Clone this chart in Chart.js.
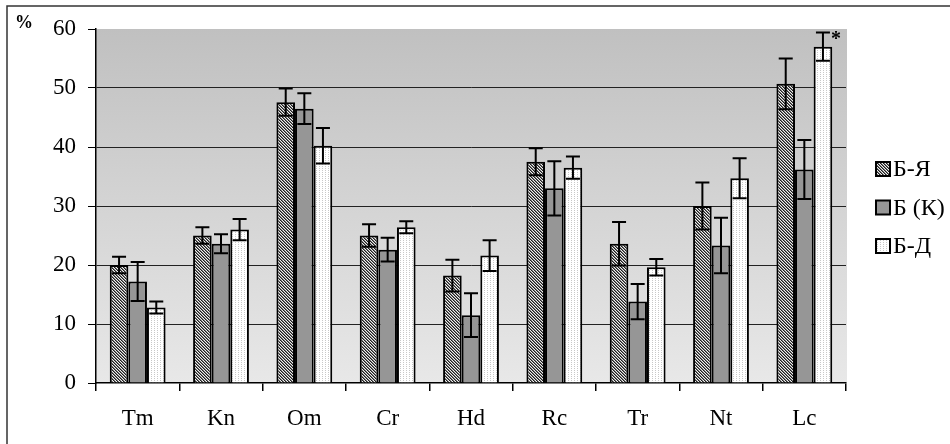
<!DOCTYPE html>
<html>
<head>
<meta charset="utf-8">
<script src="https://cdn.jsdelivr.net/npm/chart.js@4"></script>
<style>
html,body{margin:0;padding:0;background:#fff;}
#wrap{position:relative;width:950px;height:444px;}
canvas{display:block;}
</style>
</head>
<body>
<div id="wrap"><canvas id="c" width="950" height="444"></canvas></div>
<script>
const categories = ['Tm','Kn','Om','Cr','Hd','Rc','Tr','Nt','Lc'];
const seriesNames = ['Б-Я','Б (К)','Б-Д'];
const valBYa = [20.0, 25.0, 47.6, 25.0, 18.2, 37.5, 23.6, 30.0, 50.7];
const errBYa = [1.4, 1.4, 2.3, 1.9, 2.7, 2.3, 3.7, 4.0, 4.3];
const valBK  = [17.2, 23.6, 46.5, 22.6, 11.5, 33.0, 13.8, 23.3, 36.2];
const errBK  = [3.3, 1.6, 2.6, 2.0, 3.7, 4.6, 3.0, 4.7, 5.0];
const valBD  = [12.8, 26.0, 40.2, 26.4, 21.6, 36.5, 19.6, 34.7, 57.0];
const errBD  = [1.0, 1.8, 3.0, 1.0, 2.6, 1.9, 1.4, 3.4, 2.4];
const sigBD  = ['', '', '', '', '', '', '', '', '*'];
const yTicks = [0, 10, 20, 30, 40, 50, 60];

const FONT = '"Liberation Serif","Times New Roman",serif';

function makePattern(type){
  const t = document.createElement('canvas');
  const ctx = t.getContext('2d');
  if(type === 'hatch'){
    t.width = 3; t.height = 3;
    ctx.fillStyle = '#f0f0f0'; ctx.fillRect(0,0,3,3);
    for(let i=0;i<3;i++){
      ctx.fillStyle = '#1e1e1e'; ctx.fillRect(i,i,1,1);
      ctx.fillStyle = '#7a7a7a'; ctx.fillRect((i+1)%3,i,1,1);
    }
  } else if(type === 'dots'){
    t.width = 3; t.height = 2;
    ctx.fillStyle = '#ffffff'; ctx.fillRect(0,0,3,2);
    ctx.fillStyle = '#c8c8c8';
    ctx.fillRect(1,0,1,1);
  }
  return document.createElement('canvas').getContext('2d').createPattern(t,'repeat');
}
const hatch = makePattern('hatch');
const dots = makePattern('dots');

const errorsByDataset = [errBYa, errBK, errBD];
const sigByDataset = [null, null, sigBD];

const bgPlugin = {
  id:'bg',
  beforeDraw(chart){
    const {ctx, chartArea:a} = chart;
    ctx.save();
    ctx.strokeStyle = '#333';
    ctx.lineWidth = 1.5;
    ctx.strokeRect(7, 6, 960, 460);
    const g = ctx.createLinearGradient(0, a.top, 0, a.bottom);
    g.addColorStop(0, '#c0c0c0');
    g.addColorStop(1, '#e8e8e8');
    ctx.fillStyle = g;
    ctx.fillRect(a.left, a.top, a.right - a.left + 1, a.bottom - a.top);
    ctx.restore();
  },
  afterDatasetsDraw(chart){
    const {ctx} = chart;
    const y = chart.scales.y;
    ctx.save();
    ctx.strokeStyle = '#000';
    ctx.lineWidth = 2;
    chart.data.datasets.forEach((ds, di) => {
      const meta = chart.getDatasetMeta(di);
      const errs = errorsByDataset[di];
      meta.data.forEach((bar, i) => {
        const v = ds.data[i], e = errs[i];
        const x = bar.x;
        const yt = y.getPixelForValue(v + e);
        const yb = y.getPixelForValue(v - e);
        ctx.beginPath();
        ctx.moveTo(x, yt); ctx.lineTo(x, yb);
        ctx.moveTo(x - 7, yt); ctx.lineTo(x + 7, yt);
        ctx.moveTo(x - 7, yb); ctx.lineTo(x + 7, yb);
        ctx.stroke();
        const s = sigByDataset[di];
        if(s && s[i]){
          ctx.fillStyle = '#000';
          ctx.font = 'bold 20px ' + FONT;
          ctx.textAlign = 'center';
          ctx.textBaseline = 'top';
          ctx.fillText(s[i], x + 13, yt - 3);
        }
      });
    });
    ctx.fillStyle = '#000';
    ctx.font = 'bold 18px ' + FONT;
    ctx.textAlign = 'left';
    ctx.textBaseline = 'middle';
    ctx.fillText('%', 15, 23);
    const fills = chart.data.datasets.map(d => d.backgroundColor);
    const ys = [169, 207.5, 246];
    seriesNames.forEach((name, k) => {
      const cy = ys[k];
      ctx.fillStyle = fills[k];
      ctx.fillRect(876, cy - 7, 14, 14);
      ctx.strokeStyle = '#000';
      ctx.lineWidth = 2;
      ctx.strokeRect(876, cy - 7, 14, 14);
      ctx.fillStyle = '#000';
      ctx.font = '24px ' + FONT;
      ctx.textAlign = 'left';
      ctx.textBaseline = 'middle';
      ctx.fillText(name, 893, cy + 1);
    });
    ctx.restore();
  }
};

new Chart(document.getElementById('c'), {
  type:'bar',
  data:{
    labels: categories,
    datasets:[
      {label:seriesNames[0], data:valBYa, backgroundColor:hatch, borderColor:'#000', borderWidth:2},
      {label:seriesNames[1], data:valBK, backgroundColor:'#969696', borderColor:'#000', borderWidth:2},
      {label:seriesNames[2], data:valBD, backgroundColor:dots, borderColor:'#000', borderWidth:2}
    ]
  },
  options:{
    responsive:false,
    animation:false,
    events:[],
    datasets:{bar:{categoryPercentage:0.67, barPercentage:1.0}},
    layout:{padding:{left:0, top:29, right:104, bottom:0}},
    plugins:{legend:{display:false}, tooltip:{enabled:false}},
    scales:{
      x:{
        offset:true,
        grid:{offset:true, drawOnChartArea:false, tickLength:8, tickColor:'#000', lineWidth:1.5},
        border:{display:true, color:'#000', width:1.5},
        ticks:{font:{family:FONT, size:23}, color:'#000', padding:14, maxRotation:0},
        afterFit(s){ s.height = 61; }
      },
      y:{
        min:0, max:60,
        afterBuildTicks(s){ s.ticks = yTicks.map(v => ({value:v})); },
        grid:{
          tickLength:8,
          tickColor:'#000',
          color:(c)=> (c.tick && (c.tick.value === 60 || c.tick.value === 0)) ? 'rgba(0,0,0,0)' : '#222',
          lineWidth:1
        },
        border:{display:true, color:'#000', width:1.5},
        ticks:{font:{family:FONT, size:23}, color:'#000', padding:12},
        afterFit(s){ s.width = 96; }
      }
    }
  },
  plugins:[bgPlugin]
});
</script>
</body>
</html>
